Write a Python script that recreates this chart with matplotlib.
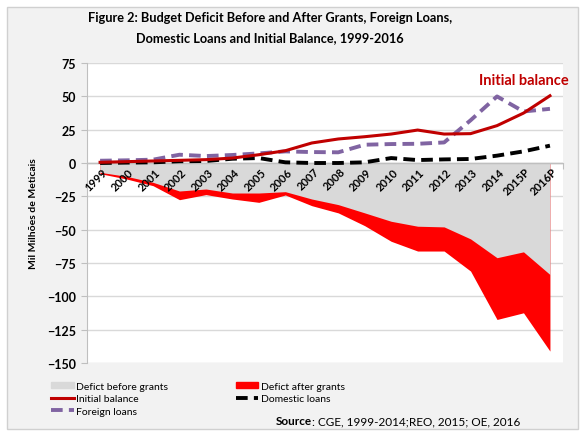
import matplotlib.pyplot as plt
import matplotlib.patches as mpatches
import matplotlib.lines as mlines
import numpy as np

plt.rcParams['font.family'] = ['Lato', 'DejaVu Sans']

years = ['1999', '2000', '2001', '2002', '2003', '2004', '2005', '2006', '2007',
         '2008', '2009', '2010', '2011', '2012', '2013', '2014', '2015P', '2016P']
initial_balance = [0.5, 1, 1.5, 2, 2.5, 3.7, 6.2, 9.2, 15, 18, 19.7, 21.7, 24.7,
                   21.7, 22, 28, 37.4, 50.4]
foreign_loans = [1.7, 2, 2.5, 6.2, 5.2, 6, 7.2, 8.7, 8.2, 8, 13.7, 14.2, 14.4,
                 15.4, 32, 49.9, 38.6, 40.6]
domestic_loans = [0, 0.3, 0.5, 1.3, 1.5, 3.2, 3.7, 0.5, 0, 0, 0.5, 3.7, 2.2,
                  2.7, 3, 5.5, 8.7, 13]
defict_before = [-7, -10, -14.5, -21, -19.5, -22.5, -22.5, -21.5, -27, -31.2,
                 -37.4, -43.7, -47.4, -47.9, -56.9, -71, -66.6, -83.6]
defict_after = [-8, -12, -17, -27.5, -23.7, -27, -29.5, -24, -32, -37.4, -47,
                -58.7, -66, -66, -81, -117.3, -112.3, -141]

bg = '#f2f2f2'
fig = plt.figure(figsize=(5.83, 4.35), dpi=100, facecolor='white')
fig.patches.append(mpatches.Rectangle((7 / 583, 5 / 435), 571 / 583, 422 / 435,
                                      transform=fig.transFigure,
                                      facecolor=bg, edgecolor='#d0d0d0',
                                      lw=1, zorder=-10))
ax = fig.add_axes([0.149, 0.163, 0.817, 0.69])
x = np.arange(len(years))

ax.fill_between(x, 0, defict_after, color='#ff0000', lw=0, zorder=1)
ax.fill_between(x, 0, defict_before, color='#d9d9d9', lw=0, zorder=2)
ax.axhline(0, color='#bfbfbf', lw=1, zorder=3)
ax.plot(x, initial_balance, color='#c00000', lw=2.2, zorder=5)
ax.plot(x, domestic_loans, color='black', lw=2.8, dashes=(3, 1.6), zorder=4)
ax.plot(x, foreign_loans, color='#8064a2', lw=2.8, dashes=(3, 1.6), zorder=4)

ax.set_xlim(-0.5, len(years) - 0.5)
ax.set_ylim(-150, 75)
ax.set_yticks(np.arange(-150, 76, 25))
ax.yaxis.grid(True, color='#d9d9d9', lw=1)
ax.set_axisbelow(True)
for lab in ax.get_yticklabels():
    lab.set_fontweight('bold')
ax.tick_params(axis='y', labelsize=9, length=4, color='#bfbfbf', pad=4)

ax.spines['bottom'].set_position(('data', 0))
ax.spines['bottom'].set_color('#bfbfbf')
ax.spines['left'].set_color('#bfbfbf')
ax.spines['top'].set_visible(False)
ax.spines['right'].set_visible(False)
ax.set_xticks(np.arange(-0.5, len(years), 1))
ax.set_xticklabels([])
ax.tick_params(axis='x', which='major', length=4, color='#bfbfbf')

# year labels drawn as text so they sit above the filled areas
for i, yr in enumerate(years):
    ax.annotate(yr, (i, 0), xytext=(1, -2), textcoords='offset points',
                rotation=45, ha='right', va='top', rotation_mode='anchor',
                fontsize=8, fontweight='bold', zorder=6)

ax.set_ylabel('Mil Milhões de Meticais', fontsize=7.5, fontweight='bold',
              labelpad=6)

ax.text(16.0, 62, 'Initial balance', color='#c00000', fontsize=10.5,
        fontweight='bold', ha='center', va='center')

fig.text(0.463, 0.958, 'Figure 2: Budget Deficit Before and After Grants, Foreign Loans,',
         ha='center', va='center', fontsize=9.2, fontweight='bold')
fig.text(0.463, 0.912, 'Domestic Loans and Initial Balance, 1999-2016',
         ha='center', va='center', fontsize=9.2, fontweight='bold')

handles = [
    mpatches.Patch(color='#d9d9d9', label='Defict before grants'),
    mlines.Line2D([], [], color='#c00000', lw=2.2, label='Initial balance'),
    mlines.Line2D([], [], color='#8064a2', lw=2.8, dashes=(3, 1.6),
                  label='Foreign loans'),
    mpatches.Patch(color='#ff0000', label='Defict after grants'),
    mlines.Line2D([], [], color='black', lw=2.8, dashes=(3, 1.6),
                  label='Domestic loans'),
]
fig.legend(handles=handles, ncol=2, loc='upper left',
           bbox_to_anchor=(0.08, 0.13), frameon=False, fontsize=7.5,
           handlelength=2.2, handleheight=0.6, handletextpad=0.2,
           columnspacing=6.5, labelspacing=0.35, borderaxespad=0)

src = fig.text(0.892, 0.03, ': CGE, 1999-2014;REO, 2015; OE, 2016',
               ha='right', va='center', fontsize=8.5)
fig.canvas.draw()
bb = src.get_window_extent().transformed(fig.transFigure.inverted())
fig.text(bb.x0, 0.03, 'Source', ha='right', va='center', fontsize=8.5,
         fontweight='bold')

fig.savefig('out.png', dpi=100, facecolor='white')
